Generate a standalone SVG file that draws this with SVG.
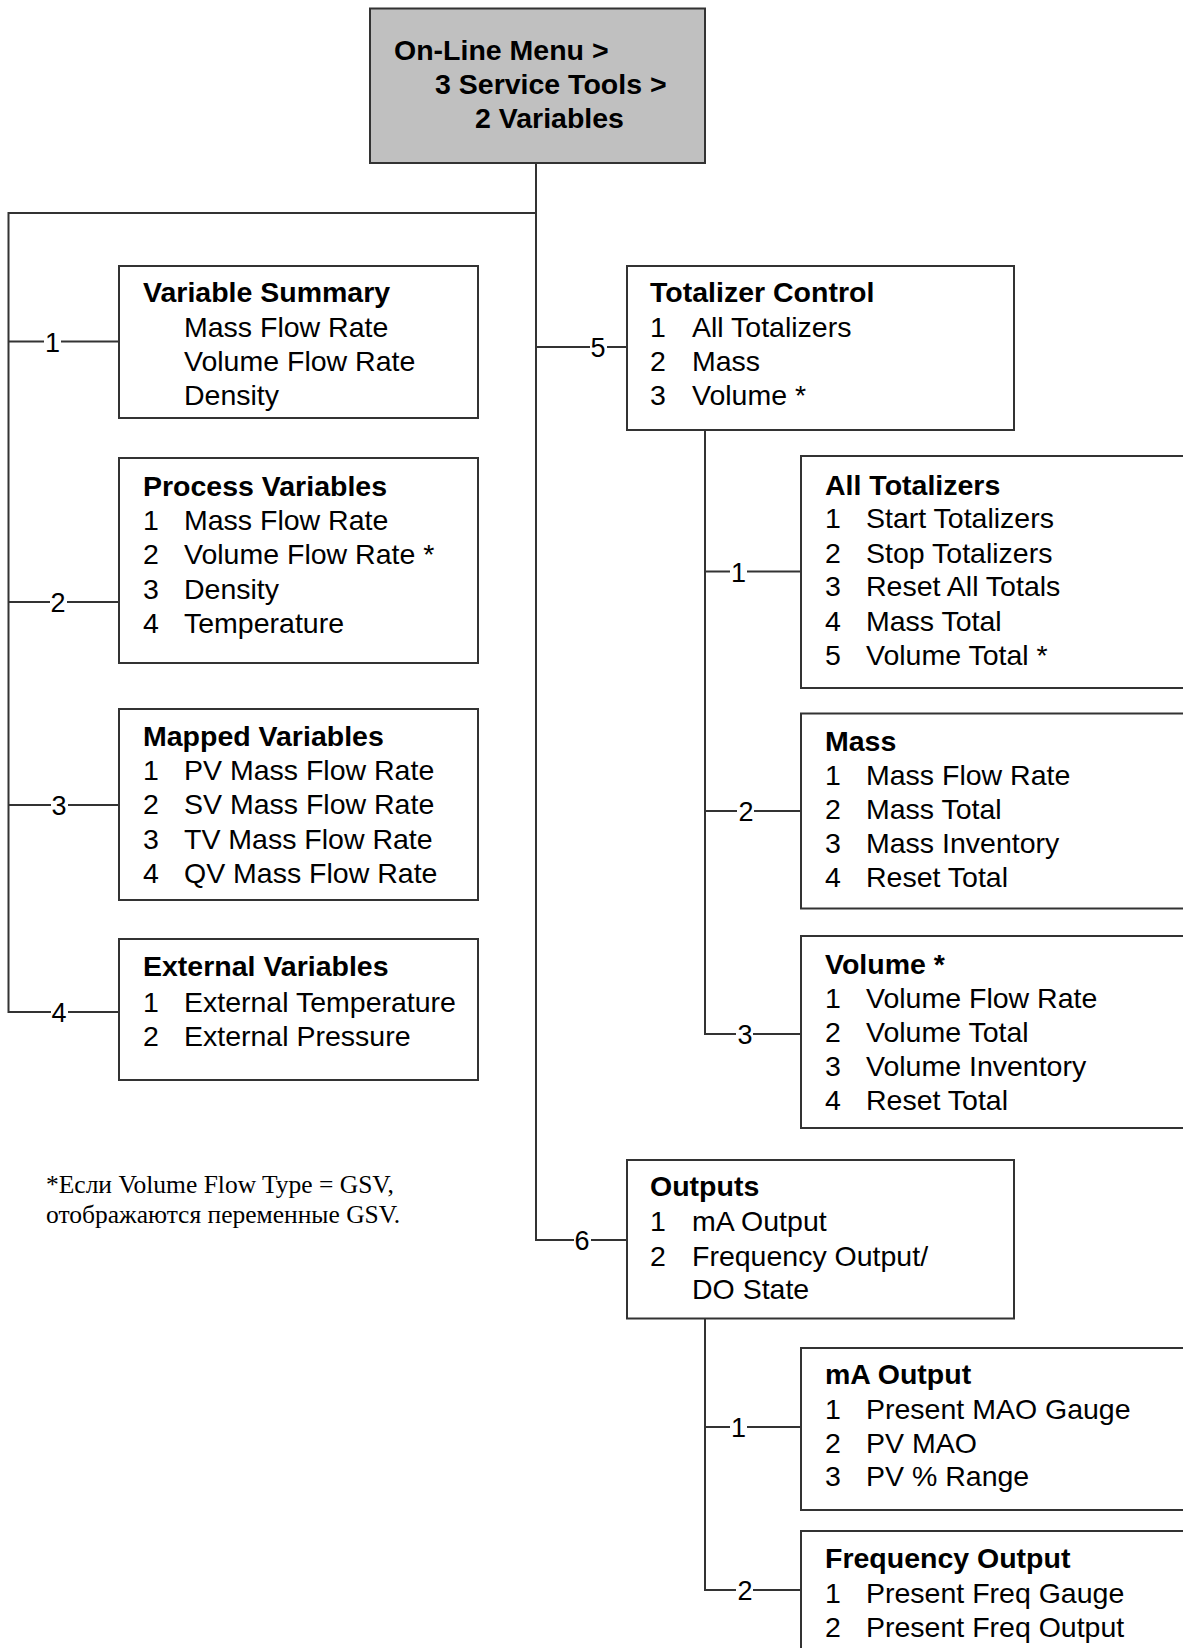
<svg xmlns="http://www.w3.org/2000/svg" width="1183" height="1648" viewBox="0 0 1183 1648">
<style>
.box{fill:#fff;stroke:#333;stroke-width:2}
.root{fill:#c0c0c0;stroke:#333;stroke-width:2}
.ln{fill:none;stroke:#333;stroke-width:2}
text{font-family:"Liberation Sans",Arial,sans-serif;font-size:28.5px;fill:#000}
.b{font-weight:bold}
.lbl{text-anchor:middle;font-size:27px}
.lb{fill:#fff}
.note{font-family:"Liberation Serif","Times New Roman",serif;font-size:25.5px}
</style>
<rect width="1183" height="1648" fill="#fff"/>
<g id="connectors">
<path class="ln" d="M536 163V1240H627M536 213H8.5V1012H119M8.5 341.5H119M8.5 602H119M8.5 805H119M536 347H627"/>
<path class="ln" d="M705 430V1034H801M705 571.5H801M705 811H801"/>
<path class="ln" d="M705 1318V1590H801M705 1427H801"/>
<g>
<rect class="lb" x="44" y="328" width="17" height="28"/><text class="lbl" x="52.5" y="351.5">1</text>
<rect class="lb" x="50" y="588" width="17" height="28"/><text class="lbl" x="58" y="612">2</text>
<rect class="lb" x="51" y="791" width="17" height="28"/><text class="lbl" x="59" y="815">3</text>
<rect class="lb" x="51" y="998" width="17" height="28"/><text class="lbl" x="59" y="1022">4</text>
<rect class="lb" x="590" y="333" width="17" height="28"/><text class="lbl" x="598" y="357">5</text>
<rect class="lb" x="574" y="1226" width="17" height="28"/><text class="lbl" x="582" y="1250">6</text>
<rect class="lb" x="730" y="558" width="17" height="28"/><text class="lbl" x="738.5" y="581.5">1</text>
<rect class="lb" x="737" y="797" width="17" height="28"/><text class="lbl" x="746" y="821">2</text>
<rect class="lb" x="736" y="1020" width="17" height="28"/><text class="lbl" x="745" y="1044">3</text>
<rect class="lb" x="730" y="1413" width="17" height="28"/><text class="lbl" x="738.5" y="1437">1</text>
<rect class="lb" x="736" y="1576" width="17" height="28"/><text class="lbl" x="745" y="1600">2</text>
</g>
</g>
<g id="root">
<rect class="root" x="370" y="8.5" width="335" height="154.5"/>
<text class="b" x="394" y="60">On-Line Menu &gt;</text>
<text class="b" x="435" y="94">3 Service Tools &gt;</text>
<text class="b" x="475" y="128">2 Variables</text>
</g>
<g id="variable-summary">
<rect class="box" x="119" y="266" width="359" height="152"/>
<text class="b" x="143" y="302">Variable Summary</text>
<text x="184" y="336.5">Mass Flow Rate</text>
<text x="184" y="370.5">Volume Flow Rate</text>
<text x="184" y="405">Density</text>
</g>
<g id="process-variables">
<rect class="box" x="119" y="458" width="359" height="205"/>
<text class="b" x="143" y="495.5">Process Variables</text>
<text x="143" y="530">1</text><text x="184" y="530">Mass Flow Rate</text>
<text x="143" y="564">2</text><text x="184" y="564">Volume Flow Rate *</text>
<text x="143" y="598.5">3</text><text x="184" y="598.5">Density</text>
<text x="143" y="633">4</text><text x="184" y="633">Temperature</text>
</g>
<g id="mapped-variables">
<rect class="box" x="119" y="709" width="359" height="191"/>
<text class="b" x="143" y="745.5">Mapped Variables</text>
<text x="143" y="780">1</text><text x="184" y="780">PV Mass Flow Rate</text>
<text x="143" y="814">2</text><text x="184" y="814">SV Mass Flow Rate</text>
<text x="143" y="848.5">3</text><text x="184" y="848.5">TV Mass Flow Rate</text>
<text x="143" y="883">4</text><text x="184" y="883">QV Mass Flow Rate</text>
</g>
<g id="external-variables">
<rect class="box" x="119" y="939" width="359" height="141"/>
<text class="b" x="143" y="975.5">External Variables</text>
<text x="143" y="1012">1</text><text x="184" y="1012">External Temperature</text>
<text x="143" y="1046">2</text><text x="184" y="1046">External Pressure</text>
</g>
<g id="totalizer-control">
<rect class="box" x="627" y="266" width="387" height="164"/>
<text class="b" x="650" y="302">Totalizer Control</text>
<text x="650" y="336.5">1</text><text x="692" y="336.5">All Totalizers</text>
<text x="650" y="370.5">2</text><text x="692" y="370.5">Mass</text>
<text x="650" y="405">3</text><text x="692" y="405">Volume *</text>
</g>
<g id="all-totalizers">
<rect class="box" x="801" y="456" width="400" height="232"/>
<text class="b" x="825" y="494.5">All Totalizers</text>
<text x="825" y="528">1</text><text x="866" y="528">Start Totalizers</text>
<text x="825" y="562.5">2</text><text x="866" y="562.5">Stop Totalizers</text>
<text x="825" y="596">3</text><text x="866" y="596">Reset All Totals</text>
<text x="825" y="631">4</text><text x="866" y="631">Mass Total</text>
<text x="825" y="664.5">5</text><text x="866" y="664.5">Volume Total *</text>
</g>
<g id="mass">
<rect class="box" x="801" y="713.5" width="400" height="195"/>
<text class="b" x="825" y="750.5">Mass</text>
<text x="825" y="784.5">1</text><text x="866" y="784.5">Mass Flow Rate</text>
<text x="825" y="819">2</text><text x="866" y="819">Mass Total</text>
<text x="825" y="852.5">3</text><text x="866" y="852.5">Mass Inventory</text>
<text x="825" y="887">4</text><text x="866" y="887">Reset Total</text>
</g>
<g id="volume">
<rect class="box" x="801" y="936" width="400" height="192"/>
<text class="b" x="825" y="973.5">Volume *</text>
<text x="825" y="1008">1</text><text x="866" y="1008">Volume Flow Rate</text>
<text x="825" y="1041.5">2</text><text x="866" y="1041.5">Volume Total</text>
<text x="825" y="1076">3</text><text x="866" y="1076">Volume Inventory</text>
<text x="825" y="1110">4</text><text x="866" y="1110">Reset Total</text>
</g>
<g id="outputs">
<rect class="box" x="627" y="1160" width="387" height="158.5"/>
<text class="b" x="650" y="1196">Outputs</text>
<text x="650" y="1231">1</text><text x="692" y="1231">mA Output</text>
<text x="650" y="1265.5">2</text><text x="692" y="1265.5">Frequency Output/</text>
<text x="692" y="1299">DO State</text>
</g>
<g id="ma-output">
<rect class="box" x="801" y="1348" width="400" height="162"/>
<text class="b" x="825" y="1384">mA Output</text>
<text x="825" y="1419">1</text><text x="866" y="1419">Present MAO Gauge</text>
<text x="825" y="1452.5">2</text><text x="866" y="1452.5">PV MAO</text>
<text x="825" y="1486">3</text><text x="866" y="1486">PV % Range</text>
</g>
<g id="frequency-output">
<rect class="box" x="801" y="1531" width="400" height="140"/>
<text class="b" x="825" y="1568">Frequency Output</text>
<text x="825" y="1603">1</text><text x="866" y="1603">Present Freq Gauge</text>
<text x="825" y="1637">2</text><text x="866" y="1637">Present Freq Output</text>
</g>
<g id="note">
<text class="note" x="46" y="1193">*Если Volume Flow Type = GSV,</text>
<text class="note" x="46" y="1223">отображаются переменные GSV.</text>
</g>
</svg>
